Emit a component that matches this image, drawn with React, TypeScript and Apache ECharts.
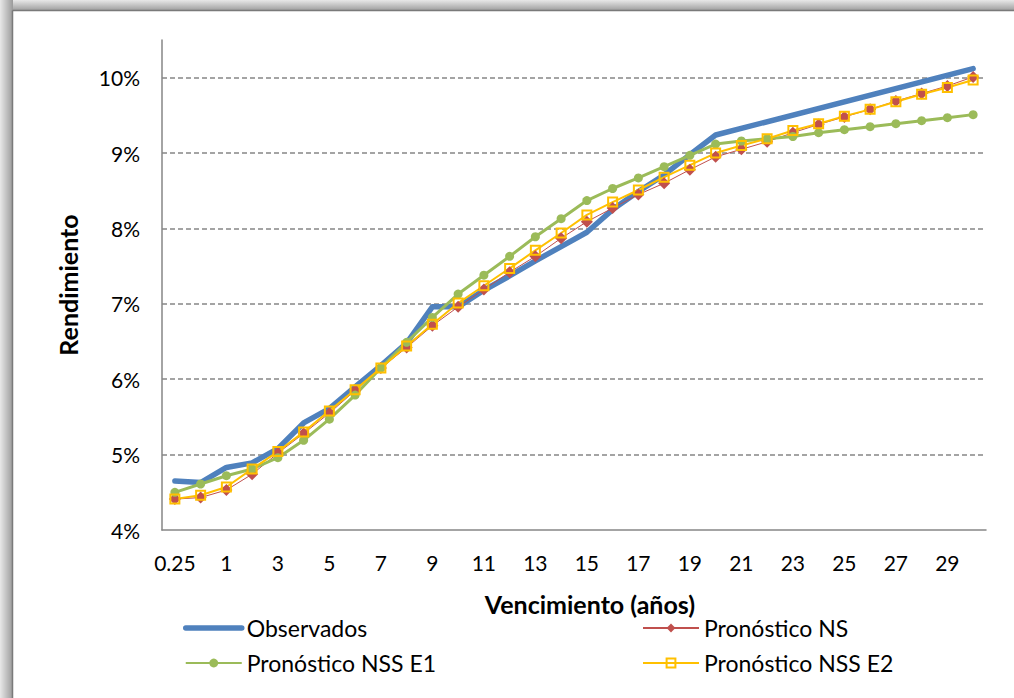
import React, { useEffect, useRef } from "react";
import * as echarts from "echarts";

// Maturities (years) on the category axis
const maturities = [
  "0.25", "0.5", "1", "2", "3", "4", "5", "6", "7", "8", "9", "10",
  "11", "12", "13", "14", "15", "16", "17", "18", "19", "20",
  "21", "22", "23", "24", "25", "26", "27", "28", "29", "30",
];

// Yields in percent
const observados = [
  4.65, 4.63, 4.83, 4.89, 5.08, 5.42, 5.61, 5.9, 6.18, 6.48, 6.96, 6.96,
  7.18, 7.37, 7.57, 7.76, 7.95, 8.25, 8.49, 8.71, 8.98, 9.24,
  null, null, null, null, null, null, null, null, null, 10.12,
];
const pronosticoNS = [
  4.41, 4.43, 4.53, 4.74, 5.02, 5.28, 5.55, 5.85, 6.15, 6.42, 6.71, 6.96,
  7.19, 7.42, 7.63, 7.87, 8.09, 8.27, 8.45, 8.6, 8.78, 8.95,
  9.05, 9.15, 9.27, 9.38, 9.48, 9.58, 9.69, 9.79, 9.89, 10.01,
];
const pronosticoNSSE1 = [
  4.5, 4.61, 4.72, 4.81, 4.96, 5.19, 5.47, 5.79, 6.15, 6.49, 6.82, 7.13,
  7.38, 7.63, 7.89, 8.13, 8.37, 8.53, 8.67, 8.82, 8.97, 9.12,
  9.16, 9.19, 9.22, 9.27, 9.31, 9.35, 9.39, 9.43, 9.47, 9.51,
];
const pronosticoNSSE2 = [
  4.41, 4.46, 4.57, 4.81, 5.04, 5.3, 5.58, 5.86, 6.15, 6.44, 6.73, 7.01,
  7.24, 7.47, 7.71, 7.94, 8.18, 8.35, 8.51, 8.68, 8.84, 9.0,
  9.1, 9.19, 9.3, 9.39, 9.49, 9.58, 9.68, 9.78, 9.87, 9.97,
];

const FONT = "Lato, 'Open Sans', sans-serif";
const GRID_GRAY = "#868686";
const BLUE = "#4F81BD";
const RED = "#C0504D";
const GREEN = "#9BBB59";
const GOLD = "#FFC000";
const CLEAR = "rgba(0,0,0,0)";

export default function App() {
  const ref = useRef<HTMLDivElement>(null);

  useEffect(() => {
    document.body.style.margin = "0";
    if (!ref.current) return;
    const chart = echarts.init(ref.current, undefined, { renderer: "svg" });

    const legendBase = {
      orient: "vertical",
      top: 616,
      padding: 0,
      itemWidth: 56,
      itemHeight: 11,
      itemGap: 11,
      textStyle: { fontFamily: FONT, fontSize: 23, color: "#000", lineHeight: 24 },
    };

    chart.setOption({
      animation: false,
      backgroundColor: "#fff",
      textStyle: { fontFamily: FONT },
      grid: { left: 162, right: 28, top: 40, bottom: 168 },
      xAxis: {
        type: "category",
        data: maturities,
        boundaryGap: true,
        name: "Vencimiento (años)",
        nameLocation: "middle",
        nameGap: 61,
        nameTextStyle: {
          fontFamily: FONT,
          fontSize: 25,
          fontWeight: "bold",
          color: "#000",
          padding: [0, 0, 0, 32],
        },
        axisLine: { lineStyle: { color: GRID_GRAY, width: 1.5 } },
        axisTick: { show: false },
        axisLabel: {
          interval: 1,
          fontFamily: FONT,
          fontSize: 21,
          color: "#000",
          margin: 22,
        },
        splitLine: { show: false },
      },
      yAxis: {
        type: "value",
        min: 4,
        max: 10.5,
        interval: 1,
        name: "Rendimiento",
        nameLocation: "middle",
        nameGap: 82,
        nameTextStyle: {
          fontFamily: FONT,
          fontSize: 25,
          fontWeight: "bold",
          color: "#000",
        },
        axisLine: { show: true, lineStyle: { color: GRID_GRAY, width: 1.5 } },
        axisTick: { show: false },
        axisLabel: {
          formatter: (v: number) => `${v}%`,
          showMaxLabel: false,
          fontFamily: FONT,
          fontSize: 21,
          color: "#000",
          margin: 22,
        },
        splitLine: {
          show: true,
          showMinLine: false,
          showMaxLine: false,
          lineStyle: { color: GRID_GRAY, width: 1.6, type: [5, 3] },
        },
      },
      legend: [
        {
          ...legendBase,
          left: 183,
          data: [
            {
              name: "Observados",
              itemStyle: { opacity: 0, color: CLEAR, borderColor: CLEAR, borderWidth: 0 },
              lineStyle: { width: 5.5, cap: "round" },
            },
            { name: "Pronóstico NSS E1" },
          ],
        },
        {
          ...legendBase,
          left: 642,
          data: ["Pronóstico NS", "Pronóstico NSS E2"],
        },
      ],
      series: [
        {
          name: "Observados",
          type: "line",
          data: observados,
          connectNulls: true,
          symbol: "none",
          lineStyle: { color: BLUE, width: 5.5, join: "round", cap: "round" },
          itemStyle: { color: BLUE },
        },
        {
          name: "Pronóstico NS",
          type: "line",
          data: pronosticoNS,
          symbol: "diamond",
          symbolSize: 12,
          lineStyle: { color: RED, width: 1 },
          itemStyle: { color: RED },
        },
        {
          name: "Pronóstico NSS E1",
          type: "line",
          data: pronosticoNSSE1,
          symbol: "circle",
          symbolSize: 9,
          lineStyle: { color: GREEN, width: 3 },
          itemStyle: { color: GREEN },
        },
        {
          name: "Pronóstico NSS E2",
          type: "line",
          data: pronosticoNSSE2,
          symbol: "rect",
          symbolSize: 9,
          lineStyle: { color: GOLD, width: 2 },
          itemStyle: { color: CLEAR, borderColor: GOLD, borderWidth: 2 },
        },
      ],
      graphic: [
        // shaded frame edges along the top and left of the chart area
        {
          type: "rect",
          silent: true,
          shape: { x: 0, y: 0, width: 1014, height: 11 },
          style: {
            fill: new echarts.graphic.LinearGradient(0, 0, 0, 1, [
              { offset: 0, color: "#e8e8e8" },
              { offset: 1, color: "#9a9a9a" },
            ]),
          },
        },
        {
          type: "rect",
          silent: true,
          shape: { x: 0, y: 0, width: 13, height: 698 },
          style: {
            fill: new echarts.graphic.LinearGradient(0, 0, 1, 0, [
              { offset: 0, color: "#e8e8e8" },
              { offset: 1, color: "#9a9a9a" },
            ]),
          },
        },
        {
          type: "line",
          silent: true,
          shape: { x1: 12.5, y1: 10.5, x2: 1014, y2: 10.5 },
          style: { stroke: "#7a7a7a", lineWidth: 1.5 },
        },
        {
          type: "line",
          silent: true,
          shape: { x1: 12.5, y1: 10.5, x2: 12.5, y2: 698 },
          style: { stroke: "#7a7a7a", lineWidth: 1.5 },
        },
      ],
    });

    return () => chart.dispose();
  }, []);

  return <div ref={ref} style={{ width: 1014, height: 698 }} />;
}
